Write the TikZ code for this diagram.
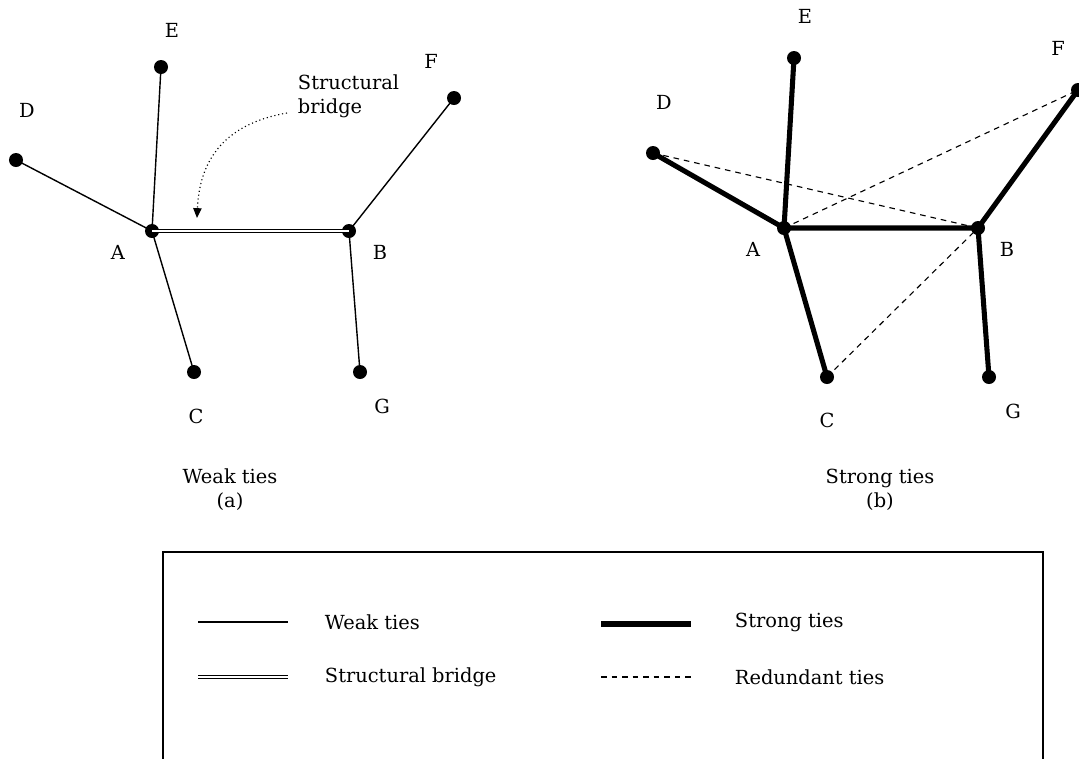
\documentclass[tikz,border=0pt]{standalone}
\usepackage{fontspec}
\setmainfont{DejaVu Serif}
\usepackage{tikz}
\usetikzlibrary{arrows.meta}

\tikzset{
  dot/.style={circle, fill=black, inner sep=0pt, minimum size=3.5mm},
  lbl/.style={font=\fontsize{13.8}{17}\selectfont},
  weak/.style={line width=1pt},
  strong/.style={line width=3.6pt},
  bridge/.style={double, double distance=1.3pt, line width=0.75pt},
  redundant/.style={line width=0.8pt, dash pattern=on 4pt off 3.5pt},
}

\begin{document}
\begin{tikzpicture}[x=0.025cm, y=-0.025cm]
          \useasboundingbox (0,0) rectangle (1079,758);

          % (a) weak ties
          \node[dot] (A) at (152,231) {};
          \node[dot] (B) at (349,231) {};
          \node[dot] (C) at (194,372) {};
          \node[dot] (D) at (16,160) {};
          \node[dot] (E) at (161,67) {};
          \node[dot] (F) at (454,98) {};
          \node[dot] (G) at (360,372) {};

          \draw[weak] (A.center) -- (D.center)
                      (A.center) -- (E.center)
                      (A.center) -- (C.center)
                      (B.center) -- (F.center)
                      (B.center) -- (G.center);
          \draw[bridge] (A.center) -- (B.center);

          \node[lbl] (lA) at (118,252) {A};
          \node[lbl] (lB) at (380,252) {B};
          \node[lbl] (lC) at (196,416) {C};
          \node[lbl] (lD) at (27,110) {D};
          \node[lbl] (lE) at (172,30) {E};
          \node[lbl] (lF) at (431,61) {F};
          \node[lbl] (lG) at (382,406) {G};

          \node[lbl, align=left, anchor=west] (note) at (293,96) {Structural\\bridge};
          \coordinate (tail) at (287,113);
          \coordinate (tip) at (197,218);
          \draw[dotted, line width=0.8pt, -{Triangle[length=7pt, width=6pt]}]
                (tail) .. controls (235,122) and (200,150) .. (tip);

          \node[lbl, align=center] (capa) at (230,490) {Weak ties\\(a)};

          % (b) strong ties
          \node[dot] (A2) at (784,228) {};
          \node[dot] (B2) at (978,228) {};
          \node[dot] (C2) at (827,377) {};
          \node[dot] (D2) at (653,153) {};
          \node[dot] (E2) at (794,58) {};
          \node[dot] (F2) at (1078,90) {};
          \node[dot] (G2) at (989,377) {};

          \draw[strong] (A2.center) -- (D2.center)
                        (A2.center) -- (E2.center)
                        (A2.center) -- (C2.center)
                        (A2.center) -- (B2.center)
                        (B2.center) -- (F2.center)
                        (B2.center) -- (G2.center);
          \draw[redundant] (D2.center) -- (B2.center)
                           (A2.center) -- (F2.center)
                           (C2.center) -- (B2.center);

          \node[lbl] (lA2) at (753,249) {A};
          \node[lbl] (lB2) at (1007,249) {B};
          \node[lbl] (lC2) at (827,420) {C};
          \node[lbl] (lD2) at (664,102) {D};
          \node[lbl] (lE2) at (805,16) {E};
          \node[lbl] (lF2) at (1058,48) {F};
          \node[lbl] (lG2) at (1013,411) {G};

          \node[lbl, align=center] (capb) at (880,490) {Strong ties\\(b)};

          % legend
          \draw[line width=1pt] (163,760) -- (163,552) -- (1043,552) -- (1043,760);

          \coordinate (w1) at (198,622);  \coordinate (w2) at (288,622);
          \coordinate (s1) at (601,624);  \coordinate (s2) at (691,624);
          \coordinate (b1) at (198,677);  \coordinate (b2) at (288,677);
          \coordinate (r1) at (601,677);  \coordinate (r2) at (691,677);
          \draw[weak] (w1) -- (w2);
          \draw[strong] (s1) -- (s2);
          \draw[bridge] (b1) -- (b2);
          \draw[redundant] (r1) -- (r2);

          \node[lbl, anchor=west] (tw) at (320,622) {Weak ties};
          \node[lbl, anchor=west] (ts) at (730,622) {Strong ties};
          \node[lbl, anchor=west] (tb) at (320,677) {Structural bridge};
          \node[lbl, anchor=west] (tr) at (730,677) {Redundant ties};
        \end{tikzpicture}
\end{document}
